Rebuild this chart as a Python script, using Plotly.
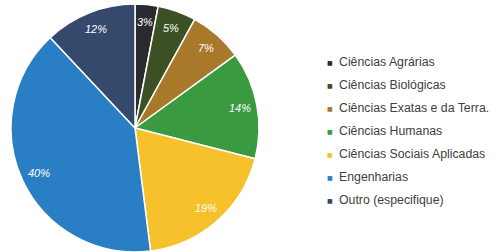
import math
import plotly.graph_objects as go

categories = ["Ciências Agrárias", "Ciências Biológicas", "Ciências Exatas e da Terra.",
              "Ciências Humanas", "Ciências Sociais Aplicadas", "Engenharias",
              "Outro (especifique)"]
values = [3, 5, 7, 14, 19, 40, 12]
colors = ["#2b2b2d", "#3b5124", "#a8792b", "#3a9a40", "#f7c12b", "#2a7fc4", "#34496b"]

W, H = 496, 252
cx, cy, R = 135, 128, 124

fig = go.Figure()
fig.add_trace(go.Pie(
    labels=categories, values=values, sort=False, direction="clockwise",
    rotation=0,
    marker=dict(colors=colors, line=dict(color="white", width=1.5)),
    textinfo="none",
    domain=dict(x=[(cx - R) / W, (cx + R) / W], y=[1 - (cy + R) / H, 1 - (cy - R) / H]),
    showlegend=False, hoverinfo="label+percent",
))

# slice labels, placed at each slice's mid-angle
total = sum(values)
cum = 0
for v in values:
    mid = (cum + v / 2) / total * 2 * math.pi
    cum += v
    r = 0.86 * R
    px = cx + r * math.sin(mid)
    py = cy - r * math.cos(mid)
    fig.add_annotation(x=px / W, y=1 - py / H, xref="paper", yref="paper",
                       text=f"{v}%", showarrow=False, xanchor="center", yanchor="middle",
                       font=dict(color="white", size=11, family="Liberation Sans",
                                 style="italic"))

row_y0 = 62
row_dy = 23
for i, (cat, col) in enumerate(zip(categories, colors)):
    y = 1 - (row_y0 + i * row_dy) / H
    fig.add_annotation(x=330 / W, y=y, xref="paper", yref="paper", text="■",
                       showarrow=False, xanchor="center", yanchor="middle",
                       font=dict(color=col, size=6, family="DejaVu Sans"))
    fig.add_annotation(x=337 / W, y=y, xref="paper", yref="paper", text=cat,
                       showarrow=False, xanchor="left", yanchor="middle",
                       font=dict(color="#404040", size=12.3, family="Liberation Sans"))

fig.update_layout(width=W, height=H, margin=dict(l=0, r=0, t=0, b=0),
                  paper_bgcolor="white", plot_bgcolor="white")
fig.write_html("out.html", config={"displayModeBar": False},
               post_script="document.body.style.margin='0';")
